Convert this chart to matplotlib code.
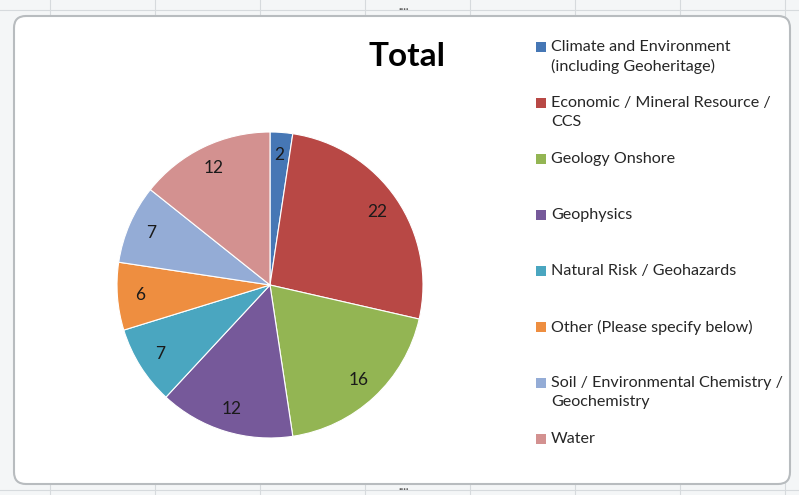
import matplotlib.pyplot as plt
from matplotlib.patches import FancyBboxPatch, Rectangle

plt.rcParams['font.family'] = ['Lato', 'DejaVu Sans']

categories = [
    'Climate and Environment\n(including Geoheritage)',
    'Economic / Mineral Resource /\nCCS',
    'Geology Onshore',
    'Geophysics',
    'Natural Risk / Geohazards',
    'Other (Please specify below)',
    'Soil / Environmental Chemistry /\nGeochemistry',
    'Water',
]
counts = [2, 22, 16, 12, 7, 6, 7, 12]
colors = ['#4677B5', '#B84845', '#93B553', '#76599A', '#4AA6C0',
          '#EE8E40', '#94ACD6', '#D39190']

W, H = 799, 495
fig = plt.figure(figsize=(W / 100, H / 100), dpi=100)
fig.patch.set_facecolor('#f4f6f7')

# spreadsheet grid peeking around the chart
for x in [50, 155, 260, 365, 470, 575, 680, 785]:
    fig.add_artist(plt.Line2D([x / W, x / W], [0, 1], color='#d6dadd', lw=0.8, zorder=-3))
for y in [10, 490]:
    fig.add_artist(plt.Line2D([0, 1], [1 - y / H, 1 - y / H], color='#d6dadd', lw=0.8, zorder=-3))

# chart area frame
frame = FancyBboxPatch((14 / W, 1 - 484 / H), 776 / W, 468 / H,
                       boxstyle='round,pad=0,rounding_size=0.015',
                       transform=fig.transFigure, facecolor='white',
                       edgecolor='#b8bcbf', lw=1.5, mutation_aspect=W / H, zorder=-2)
fig.add_artist(frame)
fig.text(404 / W, 1 - 6 / H, '....', ha='center', va='center', fontsize=8,
         fontweight='bold', color='#555555')
fig.text(404 / W, 1 - 487 / H, '....', ha='center', va='center', fontsize=8,
         fontweight='bold', color='#555555')

# pie
cx, cy, r = 270, 285, 153
ax = fig.add_axes([(cx - r) / W, 1 - (cy + r) / H, 2 * r / W, 2 * r / H])
ax.set_facecolor('none')
ax.pie(counts, colors=colors, startangle=90, counterclock=False,
       autopct=lambda p: '%d' % round(p * sum(counts) / 100),
       pctdistance=0.85, radius=1.0,
       wedgeprops=dict(edgecolor='white', linewidth=0.8),
       textprops=dict(fontsize=12.5, color='#1a1a1a'))
ax.set_xlim(-1, 1)
ax.set_ylim(-1, 1)
ax.set_aspect('equal')

fig.text(407 / W, 1 - 57 / H, 'Total', ha='center', va='center',
         fontsize=24, fontweight='bold', color='black')

# legend
y0, step = 47, 56
for i, (lab, col) in enumerate(zip(categories, colors)):
    y = y0 + i * step
    fig.add_artist(Rectangle((536 / W, 1 - (y + 5) / H), 10 / W, 10 / H,
                             transform=fig.transFigure, facecolor=col, edgecolor='none'))
    fig.text(551 / W, 1 - (y - 7) / H, lab, ha='left', va='top',
             fontsize=11.6, color='#262626', linespacing=1.45)

fig.savefig('out.png', dpi=100, facecolor=fig.get_facecolor())
